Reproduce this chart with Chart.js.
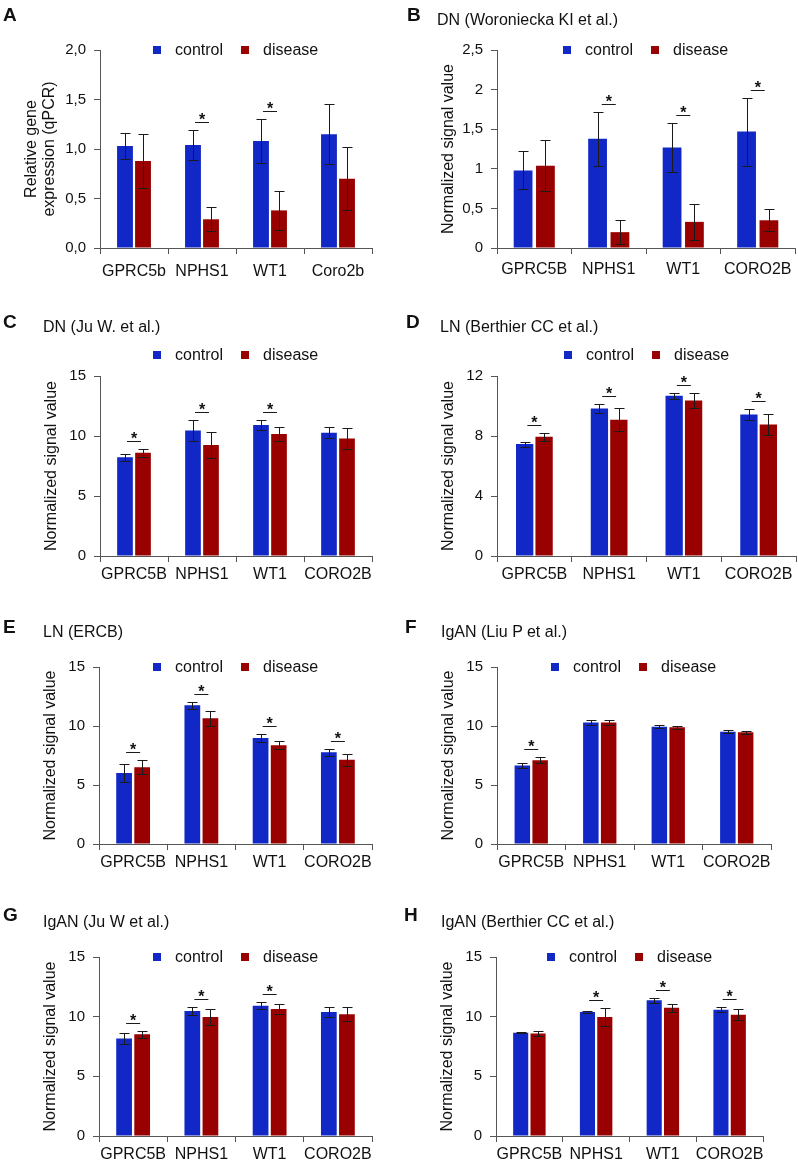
<!DOCTYPE html>
<html>
<head>
<meta charset="utf-8">
<script src="https://cdn.jsdelivr.net/npm/chart.js@4"></script>
<style>
  body { margin: 0; background: #fff; width: 798px; height: 1164px; position: relative; overflow: hidden;
         font-family: "Liberation Sans", Arial, sans-serif; color: #111; }
  canvas { position: absolute; }
  .lbl { position: absolute; font-weight: bold; font-size: 19px; line-height: 20px; }
  .ttl { position: absolute; font-size: 16px; line-height: 20px; white-space: nowrap; }
</style>
</head>
<body>
<script>
// ---- data ----
const seriesNames = ['control', 'disease'];
const catsA = ['GPRC5b', 'NPHS1', 'WT1', 'Coro2b'];
const cats = ['GPRC5B', 'NPHS1', 'WT1', 'CORO2B'];

const ctlA = [1.03, 1.04, 1.08, 1.15], ctlErrA = [0.13, 0.15, 0.22, 0.30];
const disA = [0.88, 0.29, 0.38, 0.70], disErrA = [0.27, 0.12, 0.20, 0.32];
const sigA = [false, true, true, false];
const ticksA = ['0,0', '0,5', '1,0', '1,5', '2,0'];

const ctlB = [0.98, 1.38, 1.27, 1.47], ctlErrB = [0.24, 0.34, 0.31, 0.43];
const disB = [1.04, 0.20, 0.33, 0.35], disErrB = [0.32, 0.15, 0.23, 0.14];
const sigB = [false, true, true, true];
const ticksB = ['0', '0,5', '1', '1,5', '2', '2,5'];

const ctlC = [8.22, 10.45, 10.92, 10.28], ctlErrC = [0.28, 0.85, 0.45, 0.43];
const disC = [8.60, 9.25, 10.17, 9.80], disErrC = [0.33, 1.05, 0.60, 0.85];
const sigC = [true, true, true, false];

const ctlD = [7.46, 9.84, 10.69, 9.44], ctlErrD = [0.17, 0.30, 0.19, 0.35];
const disD = [7.95, 9.09, 10.36, 8.77], disErrD = [0.27, 0.75, 0.52, 0.70];
const sigD = [true, true, true, true];
const ticksD = ['0', '4', '8', '12'];

const ctlE = [6.02, 11.75, 8.98, 7.77], ctlErrE = [0.75, 0.27, 0.35, 0.28];
const disE = [6.50, 10.65, 8.36, 7.15], disErrE = [0.60, 0.62, 0.33, 0.50];
const sigE = [true, true, true, true];

const ctlF = [6.65, 10.30, 9.94, 9.52], ctlErrF = [0.25, 0.25, 0.13, 0.14];
const disF = [7.09, 10.30, 9.89, 9.46], disErrF = [0.25, 0.25, 0.15, 0.14];
const sigF = [true, false, false, false];

const ctlG = [8.16, 10.47, 10.92, 10.39], ctlErrG = [0.45, 0.30, 0.27, 0.45];
const disG = [8.52, 9.97, 10.64, 10.20], disErrG = [0.30, 0.65, 0.43, 0.60];
const sigG = [true, true, true, false];

const ctlH = [8.66, 10.39, 11.37, 10.59], ctlErrH = [0.05, 0.12, 0.23, 0.23];
const disH = [8.58, 9.97, 10.75, 10.17], disErrH = [0.22, 0.75, 0.33, 0.46];
const sigH = [false, true, true, true];

const ticks15 = ['0', '5', '10', '15'];
const colors = ['#1127c6', '#990000'];

// ---- layout ----
const LEFT = 95, TOP = 45, BOTTOM = 40;
const signalTitle = 'Normalized signal value';

const panels = [
  { letter: 'A', lx: 3, ly: 15, title: '', cats: catsA, ctl: ctlA, ctlErr: ctlErrA, dis: disA, disErr: disErrA, sig: sigA,
    ticks: ticksA, max: 2, step: 0.5, yTitle: ['Relative gene', 'expression (qPCR)'], titleOff: 27,
    rect: [100, 50, 372, 248], legendDy: 0, xPad: 8, cp: 0.53, bp: 0.88 },
  { letter: 'B', lx: 407, ly: 15, title: 'DN (Woroniecka KI et al.)', tx: 437, ty: 20, cats, ctl: ctlB, ctlErr: ctlErrB, dis: disB, disErr: disErrB, sig: sigB,
    ticks: ticksB, max: 2.5, step: 0.5, yTitle: signalTitle, titleOff: 47,
    rect: [497, 50, 795, 248], legendDy: 0, xPad: 6, cp: 0.6, bp: 0.84 },
  { letter: 'C', lx: 3, ly: 322, title: 'DN (Ju W. et al.)', tx: 43, ty: 327, cats, ctl: ctlC, ctlErr: ctlErrC, dis: disC, disErr: disErrC, sig: sigC,
    ticks: ticks15, max: 15, step: 5, yTitle: signalTitle, titleOff: 47,
    rect: [100, 376, 372, 556], legendDy: -21, xPad: 3, cp: 0.53, bp: 0.87 },
  { letter: 'D', lx: 406, ly: 322, title: 'LN (Berthier CC et al.)', tx: 440, ty: 327, cats, ctl: ctlD, ctlErr: ctlErrD, dis: disD, disErr: disErrD, sig: sigD,
    ticks: ticksD, max: 12, step: 4, yTitle: signalTitle, titleOff: 47,
    rect: [497, 376, 796, 556], legendDy: -21, xPad: 3, cp: 0.52, bp: 0.89 },
  { letter: 'E', lx: 3, ly: 627, title: 'LN (ERCB)', tx: 43, ty: 632, cats, ctl: ctlE, ctlErr: ctlErrE, dis: disE, disErr: disErrE, sig: sigE,
    ticks: ticks15, max: 15, step: 5, yTitle: signalTitle, titleOff: 47,
    rect: [99, 667, 372, 844], legendDy: 0, xPad: 3, cp: 0.53, bp: 0.87 },
  { letter: 'F', lx: 405, ly: 627, title: 'IgAN (Liu P et al.)', tx: 441, ty: 632, cats, ctl: ctlF, ctlErr: ctlErrF, dis: disF, disErr: disErrF, sig: sigF,
    ticks: ticks15, max: 15, step: 5, yTitle: signalTitle, titleOff: 47,
    rect: [497, 667, 771, 844], legendDy: 0, xPad: 3, cp: 0.52, bp: 0.87 },
  { letter: 'G', lx: 3, ly: 915, title: 'IgAN (Ju W et al.)', tx: 43, ty: 922, cats, ctl: ctlG, ctlErr: ctlErrG, dis: disG, disErr: disErrG, sig: sigG,
    ticks: ticks15, max: 15, step: 5, yTitle: signalTitle, titleOff: 47,
    rect: [99, 957, 372, 1136], legendDy: 0, xPad: 3, cp: 0.53, bp: 0.87 },
  { letter: 'H', lx: 404, ly: 915, title: 'IgAN (Berthier CC et al.)', tx: 441, ty: 922, cats, ctl: ctlH, ctlErr: ctlErrH, dis: disH, disErr: disErrH, sig: sigH,
    ticks: ticks15, max: 15, step: 5, yTitle: signalTitle, titleOff: 47,
    rect: [496, 957, 763, 1136], legendDy: 0, xPad: 3, cp: 0.52, bp: 0.87 }
];

Chart.defaults.font.family = '"Liberation Sans", Arial, sans-serif';
Chart.defaults.color = '#111';

// error bars drawn on top of each bar
const errorBars = {
  id: 'errorBars',
  afterDatasetsDraw(chart) {
    const ctx = chart.ctx, y = chart.scales.y;
    ctx.save();
    ctx.strokeStyle = '#1a1a1a';
    ctx.lineWidth = 1;
    chart.data.datasets.forEach((ds, di) => {
      chart.getDatasetMeta(di).data.forEach((bar, i) => {
        const v = ds.data[i], e = ds.errors[i];
        const top = Math.round(y.getPixelForValue(v + e)) + 0.5;
        const bot = Math.round(y.getPixelForValue(v - e)) + 0.5;
        const x = Math.round(bar.x) + 0.5;
        ctx.beginPath();
        ctx.moveTo(x, top); ctx.lineTo(x, bot);
        ctx.moveTo(x - 5, top); ctx.lineTo(x + 5, top);
        ctx.moveTo(x - 5, bot); ctx.lineTo(x + 5, bot);
        ctx.stroke();
      });
    });
    ctx.restore();
  }
};

// significance line + star over a category
const sigMarks = {
  id: 'sigMarks',
  afterDatasetsDraw(chart, args, opts) {
    const flags = opts.flags || [];
    const ctx = chart.ctx, y = chart.scales.y;
    const [d0, d1] = chart.data.datasets;
    const m0 = chart.getDatasetMeta(0).data, m1 = chart.getDatasetMeta(1).data;
    ctx.save();
    ctx.strokeStyle = '#1a1a1a';
    ctx.fillStyle = '#111';
    ctx.lineWidth = 1;
    ctx.font = 'bold 16px "Liberation Sans", Arial';
    ctx.textAlign = 'center';
    ctx.textBaseline = 'alphabetic';
    flags.forEach((on, i) => {
      if (!on) return;
      const cx = (m0[i].x + m1[i].x) / 2;
      const top = Math.min(y.getPixelForValue(d0.data[i] + d0.errors[i]),
                           y.getPixelForValue(d1.data[i] + d1.errors[i]));
      const ly = Math.round(top - 8) + 0.5;
      ctx.beginPath();
      ctx.moveTo(cx - 7, ly); ctx.lineTo(cx + 7, ly);
      ctx.stroke();
      ctx.fillText('*', cx, ly + 2);
    });
    ctx.restore();
  }
};

// small square legend centred over the plot
const boxLegend = {
  id: 'boxLegend',
  afterDraw(chart, args, opts) {
    const ctx = chart.ctx, area = chart.chartArea;
    ctx.save();
    ctx.font = '16px "Liberation Sans", Arial';
    const items = chart.data.datasets.map(ds => ({ text: ds.label, color: ds.backgroundColor, w: ctx.measureText(ds.label).width }));
    const box = 8, gapText = 14, gapItem = 18;
    const total = items.reduce((s, it) => s + box + gapText + it.w, 0) + gapItem * (items.length - 1);
    let x = Math.round((area.left + area.right) / 2 - total / 2);
    const y = area.top + (opts.dy || 0);
    ctx.textAlign = 'left';
    ctx.textBaseline = 'middle';
    items.forEach(it => {
      ctx.fillStyle = it.color;
      ctx.fillRect(x, Math.round(y - 4), box, box);
      x += box + gapText;
      ctx.fillStyle = '#111';
      ctx.fillText(it.text, x, y + 1);
      x += it.w + gapItem;
    });
    ctx.restore();
  }
};

panels.forEach(p => {
  const [x0, y0, x1, y1] = p.rect;
  const rp = Math.min(20, 798 - x1);
  const cv = document.createElement('canvas');
  cv.width = (x1 - x0) + LEFT + rp;
  cv.height = (y1 - y0) + TOP + BOTTOM;
  cv.style.left = (x0 - LEFT) + 'px';
  cv.style.top = (y0 - TOP) + 'px';
  document.body.appendChild(cv);

  const lbl = document.createElement('div');
  lbl.className = 'lbl';
  lbl.textContent = p.letter;
  lbl.style.left = p.lx + 'px';
  lbl.style.top = (p.ly - 10) + 'px';
  document.body.appendChild(lbl);

  if (p.title) {
    const t = document.createElement('div');
    t.className = 'ttl';
    t.textContent = p.title;
    t.style.left = p.tx + 'px';
    t.style.top = (p.ty - 10) + 'px';
    document.body.appendChild(t);
  }

  new Chart(cv.getContext('2d'), {
    type: 'bar',
    data: {
      labels: p.cats,
      datasets: [
        { label: seriesNames[0], data: p.ctl, errors: p.ctlErr, backgroundColor: colors[0],
          categoryPercentage: p.cp, barPercentage: p.bp },
        { label: seriesNames[1], data: p.dis, errors: p.disErr, backgroundColor: colors[1],
          categoryPercentage: p.cp, barPercentage: p.bp }
      ]
    },
    options: {
      responsive: false,
      animation: false,
      events: [],
      layout: { padding: { left: 0, top: TOP, right: rp, bottom: 0 } },
      plugins: {
        legend: { display: false },
        tooltip: { enabled: false },
        sigMarks: { flags: p.sig },
        boxLegend: { dy: p.legendDy }
      },
      scales: {
        x: {
          grid: { drawOnChartArea: false, tickLength: 6, color: '#555', offset: true },
          border: { color: '#555' },
          ticks: { color: '#111', font: { size: 16 }, padding: p.xPad, maxRotation: 0, autoSkip: false },
          afterFit: s => { s.height = BOTTOM; }
        },
        y: {
          min: 0,
          max: p.max,
          grid: { drawOnChartArea: false, tickLength: 6, color: '#555' },
          border: { color: '#555' },
          ticks: { stepSize: p.step, color: '#111', font: { size: 15 }, padding: 8,
                   callback: (v, i) => p.ticks[i] },
          title: { display: true, text: p.yTitle, color: '#111', font: { size: 16, lineHeight: 1.125 },
                   padding: { top: p.titleOff - 9, bottom: 0 } },
          afterFit: s => { s.width = LEFT; }
        }
      }
    },
    plugins: [errorBars, sigMarks, boxLegend]
  });
});
</script>
</body>
</html>
